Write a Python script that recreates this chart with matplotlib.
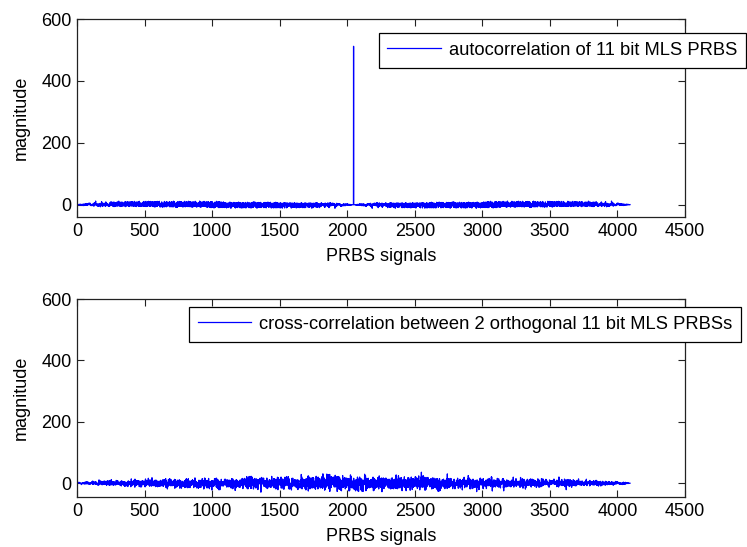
import numpy as np
import matplotlib
matplotlib.use("Agg")
import matplotlib.pyplot as plt

# ---- data definition: 11-bit maximum-length sequences (LFSR) ----
n_bits = 11
taps_a = [11, 9]          # x^11 + x^9 + 1
taps_b = [11, 8, 5, 2]    # x^11 + x^8 + x^5 + x^2 + 1
seed = [1] * 11
amplitude = 0.5           # sequence levels +/-0.5

x_ticks = [0, 500, 1000, 1500, 2000, 2500, 3000, 3500, 4000, 4500]
y_ticks = [0, 200, 400, 600]
label_top = "autocorrelation of 11 bit MLS PRBS"
label_bottom = "cross-correlation between 2 orthogonal 11 bit MLS PRBSs"
xlabel = "PRBS signals"
ylabel = "magnitude"


def mls(taps):
    reg = list(seed)
    out = []
    for _ in range(2 ** n_bits - 1):
        out.append(reg[-1])
        fb = 0
        for t in taps:
            fb ^= reg[t - 1]
        reg = [fb] + reg[:-1]
    return np.array(out, dtype=float)


seq_a = (mls(taps_a) * 2 - 1) * amplitude
seq_b = (mls(taps_b) * 2 - 1) * amplitude
auto = np.correlate(seq_a, seq_a, mode="full")
cross = np.correlate(seq_a, seq_b, mode="full")
lags = np.arange(1, len(auto) + 1)

plt.rcParams["font.family"] = ["Liberation Sans", "DejaVu Sans"]
FS = 13
LFS = 13.2
fig = plt.figure(figsize=(7.47, 5.47), dpi=100)
W, H = 747, 547


def make_ax(top_px, bottom_px, ylo):
    left, right = 77, 685
    ax = fig.add_axes([left / W, 1 - bottom_px / H, (right - left) / W, (bottom_px - top_px) / H])
    ax.set_xlim(0, 4500)
    ax.set_ylim(ylo, 600)
    ax.set_xticks(x_ticks)
    ax.set_yticks(y_ticks)
    ax.tick_params(direction="in", top=True, right=True, labelsize=FS, length=5, width=0.8,
                   pad=4, colors="#222222", labelcolor="black")
    for s in ax.spines.values():
        s.set_linewidth(0.9)
        s.set_color("#222222")
    ax.set_xlabel(xlabel, fontsize=FS, labelpad=6)
    ax.set_ylabel(ylabel, fontsize=FS, labelpad=8)
    return ax


def add_legend(ax, right_px, top_px):
    leg = ax.legend(loc="upper right", bbox_to_anchor=(right_px / W, 1 - top_px / H),
                    bbox_transform=fig.transFigure, fontsize=LFS, frameon=True, fancybox=False,
                    edgecolor="black", handlelength=2.9, borderpad=0.48, handletextpad=0.45,
                    borderaxespad=0, framealpha=1)
    leg.get_frame().set_linewidth(0.9)
    return leg


ax1 = make_ax(19, 217, -40)
ax1.plot(lags, auto, color="#0000ff", lw=0.9, label=label_top)
add_legend(ax1, 746, 33)

ax2 = make_ax(299, 497, -45)
ax2.plot(lags, cross, color="#0000ff", lw=0.9, label=label_bottom)
add_legend(ax2, 741, 307)

fig.savefig("out.png", dpi=100, facecolor="white")
